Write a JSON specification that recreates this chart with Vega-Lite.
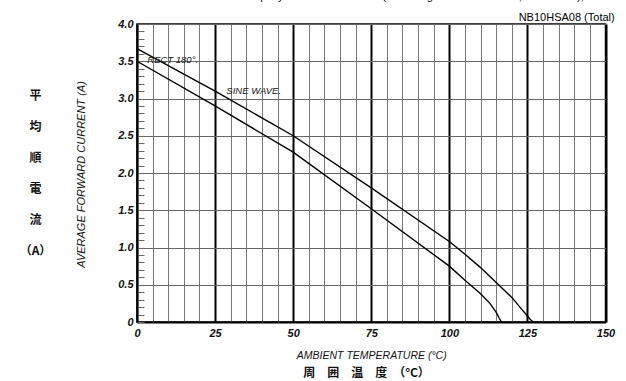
{
  "$schema": "https://vega.github.io/schema/vega-lite/v6.json",
  "width": 468.5,
  "height": 298,
  "autosize": {"type": "none"},
  "padding": {"left": 137, "top": 24, "right": 20, "bottom": 59},
  "background": "white",
  "config": {
    "view": {"stroke": "black", "strokeWidth": 1.5},
    "font": "Liberation Sans"
  },
  "title": {
    "text": ["Glass-Epoxy Substrate Mounted (Soldering Land 2.0×7.0mm,2.0×3.0mm), t=1.6t", "NB10HSA08 (Total)"],
    "anchor": "end",
    "fontSize": 11,
    "fontWeight": "normal",
    "lineHeight": 21,
    "offset": -5,
    "color": "black",
    "font": "Liberation Sans"
  },
  "datasets": {
    "curves": [
      {"series": "RECT 180°", "T": 0, "I": 3.67},
      {"series": "RECT 180°", "T": 25, "I": 3.1},
      {"series": "RECT 180°", "T": 50, "I": 2.5},
      {"series": "RECT 180°", "T": 75, "I": 1.8},
      {"series": "RECT 180°", "T": 100, "I": 1.08},
      {"series": "RECT 180°", "T": 105, "I": 0.91},
      {"series": "RECT 180°", "T": 110, "I": 0.73},
      {"series": "RECT 180°", "T": 115, "I": 0.53},
      {"series": "RECT 180°", "T": 120, "I": 0.33},
      {"series": "RECT 180°", "T": 123, "I": 0.18},
      {"series": "RECT 180°", "T": 125, "I": 0.08},
      {"series": "RECT 180°", "T": 126, "I": 0.03},
      {"series": "RECT 180°", "T": 127, "I": 0},
      {"series": "SINE WAVE", "T": 0, "I": 3.5},
      {"series": "SINE WAVE", "T": 25, "I": 2.9},
      {"series": "SINE WAVE", "T": 50, "I": 2.28},
      {"series": "SINE WAVE", "T": 75, "I": 1.52},
      {"series": "SINE WAVE", "T": 100, "I": 0.75},
      {"series": "SINE WAVE", "T": 105, "I": 0.56},
      {"series": "SINE WAVE", "T": 110, "I": 0.38},
      {"series": "SINE WAVE", "T": 113, "I": 0.25},
      {"series": "SINE WAVE", "T": 115, "I": 0.13},
      {"series": "SINE WAVE", "T": 116, "I": 0.05},
      {"series": "SINE WAVE", "T": 116.7, "I": 0}
    ],
    "labels": [
      {"label": "RECT 180°.", "T": 3.3, "I": 3.52},
      {"label": "SINE WAVE.", "T": 28.6, "I": 3.1}
    ]
  },
  "resolve": {"axis": {"x": "independent", "y": "independent"}},
  "layer": [
    {
      "data": {"name": "curves"},
      "mark": {"type": "line", "color": "black", "strokeWidth": 1.4},
      "encoding": {
        "x": {
          "field": "T",
          "type": "quantitative",
          "scale": {"domain": [0, 150], "nice": false, "zero": false},
          "axis": {
            "values": [0,5,10,15,20,25,30,35,40,45,50,55,60,65,70,75,80,85,90,95,100,105,110,115,120,125,130,135,140,145,150],
            "labelExpr": "datum.value % 25 == 0 ? datum.label : ''",
            "labelFontStyle": "italic",
            "labelFontWeight": "bold",
            "labelFontSize": 11,
            "labelColor": "#111",
            "labelPadding": 5,
            "labelFlush": false,
            "labelOverlap": false,
            "ticks": false,
            "domain": true,
            "domainColor": "black",
            "domainWidth": 2,
            "grid": true,
            "gridColor": {"condition": {"test": "datum.value % 25 == 0", "value": "black"}, "value": "#777"},
            "gridWidth": {"condition": {"test": "datum.value % 25 == 0", "value": 2}, "value": 1},
            "gridOpacity": 1,
            "title": "AMBIENT TEMPERATURE (°C)",
            "titleFontStyle": "italic",
            "titleFontWeight": "normal",
            "titleFontSize": 10.5,
            "titleColor": "#111",
            "titleBaseline": "middle",
            "titleY": 33
          }
        },
        "y": {
          "field": "I",
          "type": "quantitative",
          "scale": {"domain": [0, 4], "nice": false, "zero": false},
          "axis": {
            "values": [0,0.1,0.2,0.3,0.4,0.5,0.6,0.7,0.8,0.9,1,1.1,1.2,1.3,1.4,1.5,1.6,1.7,1.8,1.9,2,2.1,2.2,2.3,2.4,2.5,2.6,2.7,2.8,2.9,3,3.1,3.2,3.3,3.4,3.5,3.6,3.7,3.8,3.9,4],
            "labelExpr": "abs(datum.value*2 - round(datum.value*2)) < 0.001 ? (datum.value == 0 ? '0' : format(datum.value, '.1f')) : ''",
            "labelFontStyle": "italic",
            "labelFontWeight": "bold",
            "labelFontSize": 11,
            "labelColor": "#111",
            "labelPadding": 11,
            "labelFlush": false,
            "labelOverlap": false,
            "ticks": true,
            "tickSize": -7,
            "tickColor": "#666",
            "tickWidth": 1,
            "domain": true,
            "domainColor": "black",
            "domainWidth": 1.5,
            "grid": true,
            "gridColor": "#666",
            "gridWidth": 1.2,
            "gridOpacity": {"condition": {"test": "abs(datum.value*2 - round(datum.value*2)) < 0.001", "value": 1}, "value": 0},
            "title": "AVERAGE FORWARD CURRENT (A)",
            "titleFontStyle": "italic",
            "titleFontWeight": "normal",
            "titleFontSize": 11,
            "titleColor": "#111",
            "titleAngle": -90,
            "titleAlign": "center",
            "titleBaseline": "middle",
            "titleX": -56,
            "titleY": 150
          }
        },
        "detail": {"field": "series"}
      }
    },
    {
      "data": {"name": "labels"},
      "mark": {"type": "text", "align": "left", "baseline": "middle", "fontStyle": "italic", "fontSize": 9.5, "color": "#111", "font": "Liberation Sans"},
      "encoding": {
        "x": {
          "field": "T",
          "type": "quantitative",
          "axis": {
            "orient": "bottom",
            "labels": false,
            "ticks": false,
            "domain": false,
            "grid": false,
            "title": "周　囲　温　度　（°C）",
            "titleFont": "Noto Sans CJK JP",
            "titleFontWeight": "bold",
            "titleFontSize": 12,
            "titleColor": "#111",
            "titleBaseline": "middle",
            "titleY": 50,
            "titleX": 229
          }
        },
        "y": {
          "field": "I",
          "type": "quantitative",
          "axis": {
            "orient": "left",
            "labels": false,
            "ticks": false,
            "domain": false,
            "grid": false,
            "title": ["平", "均", "順", "電", "流", "（A）"],
            "titleFont": "Noto Sans CJK JP",
            "titleFontWeight": "bold",
            "titleFontSize": 12,
            "titleLineHeight": 31,
            "titleColor": "#111",
            "titleAngle": 0,
            "titleAlign": "center",
            "titleBaseline": "middle",
            "titleX": -102,
            "titleY": 71
          }
        },
        "text": {"field": "label"}
      }
    }
  ]
}
